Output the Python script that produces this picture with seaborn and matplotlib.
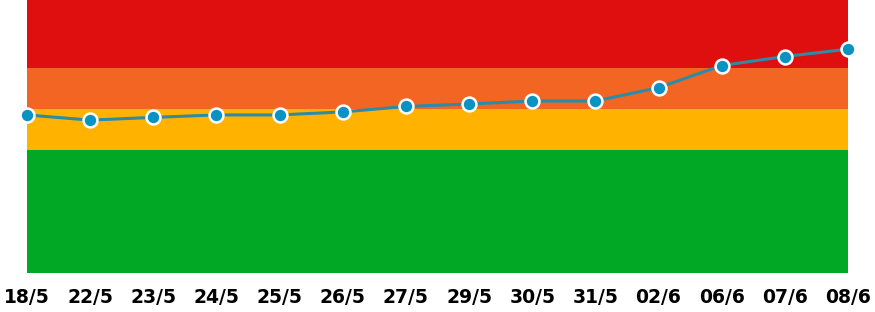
import matplotlib
matplotlib.use("Agg")
import matplotlib.pyplot as plt
import seaborn as sns
import pandas as pd
import numpy as np

dates = ["18/5", "22/5", "23/5", "24/5", "25/5", "26/5", "27/5", "29/5",
         "30/5", "31/5", "02/6", "06/6", "07/6", "08/6"]
values = [57.9, 56.0, 57.0, 57.9, 57.9, 59.0, 61.0, 61.9,
          63.0, 63.0, 67.9, 76.0, 79.3, 82.0]
band_edges = [0, 45, 60, 75, 100]
band_colors = ["#00A826", "#FFB300", "#F26522", "#DE0F0E"]

sns.set_theme(style="white")
plt.rcParams['font.family'] = ['DejaVu Sans']

fig = plt.figure(figsize=(8.75, 3.12), dpi=100)
ax = fig.add_axes([27/875, 39/312, 821/875, 273/312])

for lo, hi, c in zip(band_edges[:-1], band_edges[1:], band_colors):
    ax.axhspan(lo, hi, color=c, lw=0, zorder=0)

df = pd.DataFrame({"pos": np.arange(len(dates)), "val": values})
sns.lineplot(data=df, x="pos", y="val", ax=ax, color="#2C8BA6", linewidth=2.2,
             marker="o", markersize=10, markerfacecolor="#0A93C2",
             markeredgecolor="white", markeredgewidth=1.8, clip_on=False, zorder=3)

ax.set_xlim(0, len(dates) - 1)
ax.set_ylim(0, 100)
ax.set_xticks(range(len(dates)))
ax.set_xticklabels(dates, fontsize=13.5, fontweight="bold", color="black")
ax.set_yticks([])
ax.tick_params(axis="x", length=0, pad=10.5)
ax.set_xlabel("")
ax.set_ylabel("")
for s in ax.spines.values():
    s.set_visible(False)

fig.savefig("out.png", dpi=100)
